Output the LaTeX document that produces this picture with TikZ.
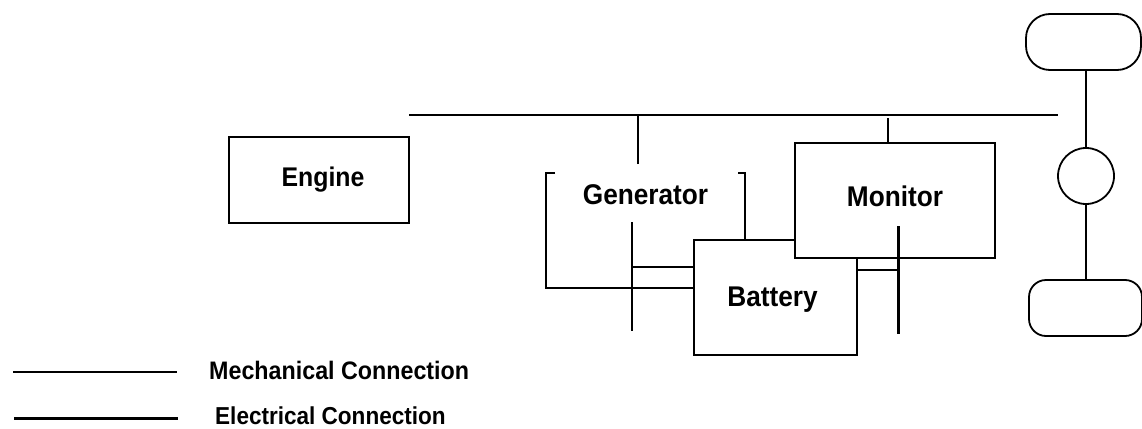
\documentclass[tikz,border=0pt]{standalone}
\usepackage{fontspec}
\setmainfont{Liberation Sans}[FakeStretch=0.92]
\usetikzlibrary{positioning}
\tikzset{
    %Define style for boxes
    unit/.style={
           rectangle,
           draw=black, line width=1.9pt,
           fill=white,
           inner sep=0pt,
           outer sep=0pt,
           },
    openunit/.style={
           rectangle,
           inner sep=0pt,
           outer sep=0pt,
           minimum width=199pt,
           minimum height=115pt,
           },
    wheel/.style={
           rectangle,
           draw=black, line width=1.8pt,
           inner sep=0pt,
           outer sep=0pt,
           minimum height=56pt,
           },
    hub/.style={
           circle,
           draw=black, line width=1.8pt,
           inner sep=0pt,
           outer sep=0pt,
           minimum width=56pt,
           },
    caption/.style={
           font=\bfseries\fontsize{28.5}{32}\selectfont,
           anchor=base,
           inner sep=0pt,
           },
    legendtext/.style={
           font=\bfseries\fontsize{25.3}{30}\selectfont,
           anchor=base west,
           inner sep=0pt,
           },
    % Define line styles
    mech/.style={
           line width=2.1pt,},
    elec/.style={
           line width=3pt,}
}
\begin{document}
\begin{tikzpicture}[x=1pt,y=-1pt,node distance=1cm]
\useasboundingbox (0,0) rectangle (1142,428);

 %nodes
\node[unit, minimum width=180pt, minimum height=86pt](engine) at (319,180){};
\node[caption, font=\bfseries\fontsize{27}{32}\selectfont, xshift=4pt, yshift=-6.8pt](enginetext) at (engine.center){Engine};
\node[openunit, below right=36pt and 137pt of engine.north east](generator){};
\node[caption, yshift=-31pt](generatortext) at (generator.north){Generator};
\node[unit, minimum width=163pt, minimum height=115pt, below right=103pt and 285pt of engine.north east](battery){};
\node[caption, xshift=-3pt, yshift=-9pt](batterytext) at (battery.center){Battery};
\node[unit, minimum width=200pt, minimum height=115pt, below right=6pt and 386pt of engine.north east](monitor){};
\node[caption, yshift=-6pt](monitortext) at (monitor.center){Monitor};
\node[hub](axle) at (1086,176){};
\node[wheel, rounded corners=24pt, minimum width=115pt, above=78pt of axle, xshift=-2.5pt](front){};
\node[wheel, rounded corners=17pt, minimum width=113pt, below=76pt of axle, xshift=-0.5pt](rear){};

 %free ends
\coordinate(busleft) at (409,115);
\coordinate(busright) at (1058,115);
\coordinate(genstub) at (638,164);
\coordinate(monstub) at (888,118);
\coordinate(gentop) at (632,222);
\coordinate(genbottom) at (632,331);
\coordinate(montop) at (898,226);
\coordinate(monbottom) at (898,334);
\coordinate(mechleft) at (13,372);
\coordinate(mechright) at (177,372);
\coordinate(elecleft) at (14,418);
\coordinate(elecright) at (178,418);

 %connections
\draw[mech] (busleft) -- (busright);
\draw[mech] (genstub) -- (genstub |- busleft);
\draw[mech] (monstub) -- (monstub |- monitor.north);
\draw[mech] (axle.north) -- (axle.north |- front.south);
\draw[mech] (axle.south) -- (axle.south |- rear.north);
\draw[mech] ([xshift=9pt]generator.north west) -- (generator.north west)
    -- (generator.south west) -- (battery.west |- generator.south);
\draw[mech] ([xshift=-7pt]generator.north east) -- (generator.north east)
    -- (generator.east |- battery.north);
\draw[mech] (gentop) -- (genbottom);
\draw[mech] (gentop |- 0,267) -- (battery.west |- 0,267);
\draw[elec] (montop) -- (monbottom);
\draw[mech] (battery.east |- 0,270) -- (montop |- 0,270);

 %legend
\draw[mech] (mechleft) -- (mechright);
\node[legendtext](mechtext) at (209,379.3){Mechanical Connection};
\draw[elec] (elecleft) -- (elecright);
\node[legendtext, font=\bfseries\fontsize{24.5}{30}\selectfont](electext) at (215,424.5){Electrical Connection};

\end{tikzpicture}
\end{document}
